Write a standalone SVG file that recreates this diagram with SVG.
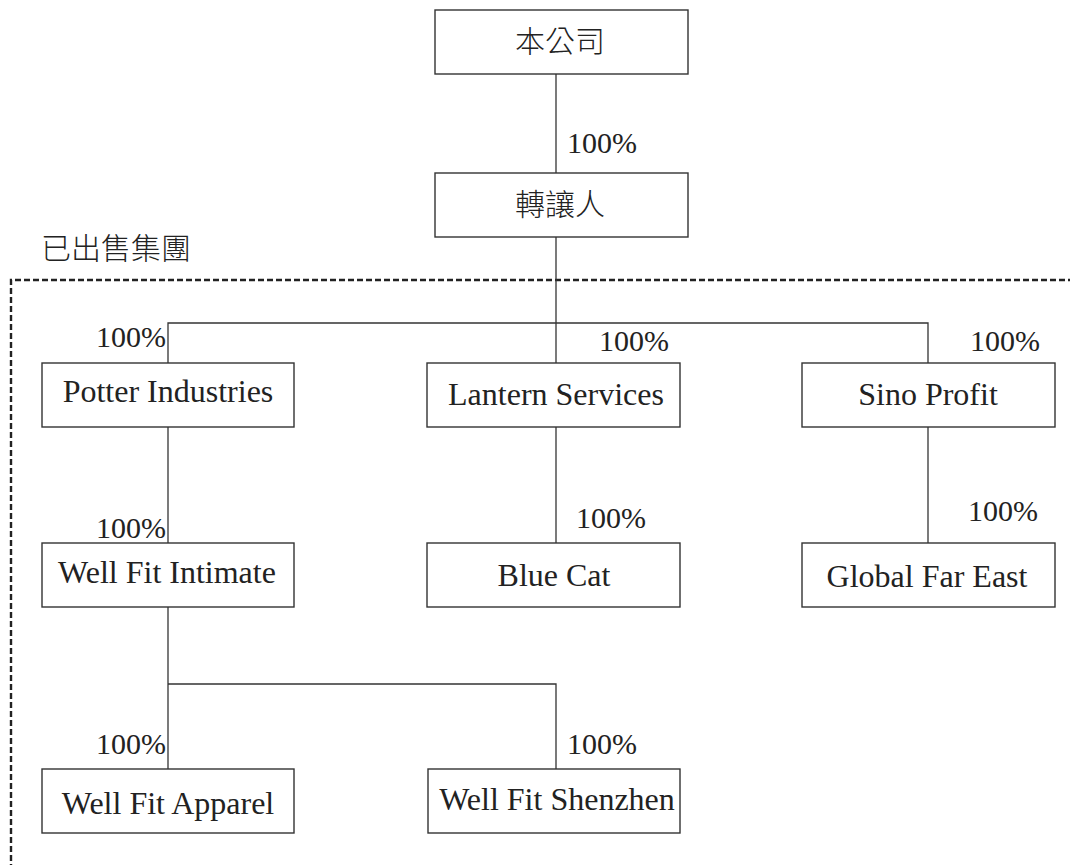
<svg xmlns="http://www.w3.org/2000/svg" width="1070" height="865" viewBox="0 0 1070 865">
<style>
.box{fill:#fff;stroke:#333;stroke-width:1.4}
.ln{fill:none;stroke:#333;stroke-width:1.3}
.dash{fill:none;stroke:#222;stroke-width:2.4;stroke-dasharray:6,3}
.t{font-family:"Liberation Serif","Times New Roman",serif;font-size:32px;fill:#222;text-anchor:middle}
.p{font-family:"Liberation Serif","Times New Roman",serif;font-size:30px;fill:#222}
.e{text-anchor:end}
.c{font-family:"Noto Sans CJK TC","Noto Sans CJK SC",sans-serif;font-weight:300;font-size:30px;fill:#222;text-anchor:middle}
</style>
<rect width="1070" height="865" fill="#fff"/>
<path class="dash" d="M11,870 V280 H1075"/>
<text class="c" x="116" y="259">已出售集團</text>
<g id="connectors">
<path class="ln" d="M556,74 V173"/>
<path class="ln" d="M556,237 V363"/>
<path class="ln" d="M168,363 V323 H928 V363"/>
<path class="ln" d="M168,427 V543"/>
<path class="ln" d="M556,427 V543"/>
<path class="ln" d="M928,427 V543"/>
<path class="ln" d="M168,607 V769"/>
<path class="ln" d="M168,684 H556 V769"/>
<text class="p" x="567" y="153">100%</text>
<text class="p e" x="166" y="347">100%</text>
<text class="p" x="599" y="351">100%</text>
<text class="p" x="970" y="351">100%</text>
<text class="p e" x="166" y="538">100%</text>
<text class="p" x="576" y="528">100%</text>
<text class="p" x="968" y="521">100%</text>
<text class="p e" x="166" y="754">100%</text>
<text class="p" x="567" y="754">100%</text>
</g>
<g id="company"><rect class="box" x="435" y="10" width="253" height="64"/><text class="c" x="560" y="52">本公司</text></g>
<g id="transferor"><rect class="box" x="435" y="173" width="253" height="64"/><text class="c" x="560" y="215">轉讓人</text></g>
<g id="potter"><rect class="box" x="42" y="363" width="252" height="64"/><text class="t" x="168" y="402">Potter Industries</text></g>
<g id="lantern"><rect class="box" x="427" y="363" width="253" height="64"/><text class="t" x="556" y="405">Lantern Services</text></g>
<g id="sino"><rect class="box" x="802" y="363" width="253" height="64"/><text class="t" x="928" y="405">Sino Profit</text></g>
<g id="intimate"><rect class="box" x="42" y="543" width="252" height="64"/><text class="t" x="167" y="583">Well Fit Intimate</text></g>
<g id="bluecat"><rect class="box" x="427" y="543" width="253" height="64"/><text class="t" x="554" y="586">Blue Cat</text></g>
<g id="global"><rect class="box" x="802" y="543" width="253" height="64"/><text class="t" x="927" y="587">Global Far East</text></g>
<g id="apparel"><rect class="box" x="42" y="769" width="252" height="64"/><text class="t" x="168" y="814">Well Fit Apparel</text></g>
<g id="shenzhen"><rect class="box" x="428" y="769" width="252" height="64"/><text class="t" x="557" y="810">Well Fit Shenzhen</text></g>
</svg>
